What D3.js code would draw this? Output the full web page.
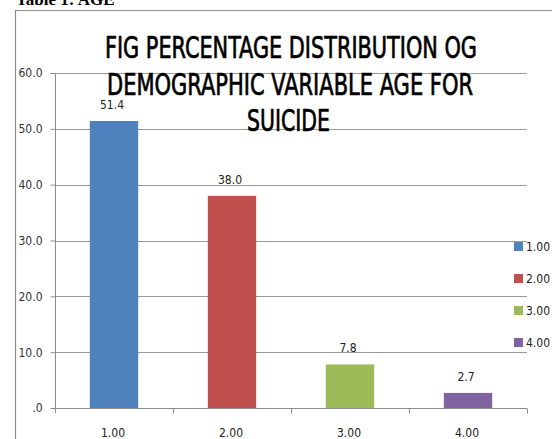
<!DOCTYPE html>
<html>
<head>
<meta charset="utf-8">
<script src="https://cdn.jsdelivr.net/npm/d3@7"></script>
<style>
  body { margin: 0; background: #fff; }
  svg { display: block; }
  text { font-family: "Liberation Sans Narrow", "DejaVu Sans Condensed", "Liberation Sans", sans-serif; }
</style>
</head>
<body>
<div id="chart"></div>
<script>
// chart values
const categories = ["1.00", "2.00", "3.00", "4.00"];
const percents = [51.4, 38.0, 7.8, 2.7];
const colors = ["#4F81BD", "#C0504D", "#9BBB59", "#8064A2"];
const yTicks = [0, 10, 20, 30, 40, 50, 60];
const titleLines = ["FIG PERCENTAGE DISTRIBUTION OG", "DEMOGRAPHIC VARIABLE AGE FOR", "SUICIDE"];

const width = 552, height = 439;
const margin = { top: 73, right: 25, bottom: 31, left: 55 };

const svg = d3.select("#chart").append("svg")
    .attr("width", width).attr("height", height);

// caption cut off at the top of the page
svg.append("text")
    .attr("x", 16).attr("y", 5)
    .attr("font-weight", "bold")
    .attr("font-size", 17)
    .style("font-family", "'Liberation Serif', serif")
    .text("Table 1: AGE");

// chart frame (only top and left edges show)
svg.append("path")
    .attr("d", `M15.5,${height} V10.5 H${width}`)
    .attr("fill", "none")
    .attr("stroke", "#8c8c8c")
    .attr("stroke-width", 1.2);

const x = d3.scaleBand()
    .domain(categories)
    .range([margin.left, width - margin.right])
    .paddingInner(0.59)
    .paddingOuter(0.295);

const y = d3.scaleLinear()
    .domain([0, 60])
    .range([height - margin.bottom, margin.top]);

// gridlines
svg.append("g")
    .selectAll("line")
    .data(yTicks.filter(d => d > 0))
    .enter().append("line")
    .attr("x1", margin.left).attr("x2", width - margin.right)
    .attr("y1", d => Math.round(y(d)) + 0.5).attr("y2", d => Math.round(y(d)) + 0.5)
    .attr("stroke", "#9a9a9a");

// y axis
const yAxis = svg.append("g")
    .attr("transform", `translate(${margin.left + 0.5},0)`)
    .call(d3.axisLeft(y).tickValues(yTicks).tickSize(5).tickPadding(8)
        .tickFormat(d => d === 0 ? ".0" : d.toFixed(1)));
yAxis.select(".domain").attr("stroke", "#8c8c8c").attr("d", `M0,${margin.top}V${y(0) + 5}`);
yAxis.selectAll(".tick line").attr("stroke", "#8c8c8c");
yAxis.selectAll(".tick text").attr("font-size", 12).attr("fill", "#333");

// bars
svg.append("g")
    .selectAll("rect")
    .data(percents)
    .enter().append("rect")
    .attr("x", (d, i) => x(categories[i]))
    .attr("y", d => y(d))
    .attr("width", x.bandwidth())
    .attr("height", d => y(0) - y(d))
    .attr("fill", (d, i) => colors[i]);

// value labels
svg.append("g")
    .selectAll("text")
    .data(percents)
    .enter().append("text")
    .attr("x", (d, i) => x(categories[i]) + x.bandwidth() / 2 - 2)
    .attr("y", d => y(d) - 12)
    .attr("text-anchor", "middle")
    .attr("font-size", 12)
    .attr("fill", "#222")
    .text(d => d.toFixed(1));

// x axis: ticks sit on the category boundaries
const xEdges = d3.scaleLinear().domain([0, categories.length]).range([margin.left, width - margin.right]);
const xAxis = svg.append("g")
    .attr("transform", `translate(0,${Math.round(y(0)) + 0.5})`)
    .call(d3.axisBottom(xEdges).ticks(categories.length).tickSize(5).tickFormat(""));
xAxis.select(".domain").attr("stroke", "#8c8c8c").attr("d", `M${margin.left},0H${width - margin.right}`);
xAxis.selectAll(".tick line").attr("stroke", "#8c8c8c");
xAxis.selectAll(".tick").filter(d => d === 0).remove();

svg.append("g")
    .selectAll("text")
    .data(categories)
    .enter().append("text")
    .attr("x", d => x(d) + x.bandwidth() / 2 - 1)
    .attr("y", 437)
    .attr("text-anchor", "middle")
    .attr("font-size", 12)
    .attr("fill", "#222")
    .text(d => d);

// title
const titleX = [[105, 372], [107, 366], [247, 83]];
const titleY = [58, 95, 131];
svg.append("g")
    .selectAll("text")
    .data(titleLines)
    .enter().append("text")
    .attr("x", (d, i) => titleX[i][0])
    .attr("y", (d, i) => titleY[i])
    .attr("textLength", (d, i) => titleX[i][1])
    .attr("lengthAdjust", "spacingAndGlyphs")
    .attr("font-size", 31)
    .attr("fill", "#000")
    .attr("stroke", "#000")
    .attr("stroke-width", 0.7)
    .text(d => d);

// legend
const legend = svg.append("g")
    .selectAll("g")
    .data(categories)
    .enter().append("g")
    .attr("transform", (d, i) => `translate(514,${242 + i * 32})`);
legend.append("rect")
    .attr("width", 9).attr("height", 9)
    .attr("fill", (d, i) => colors[i]);
legend.append("text")
    .attr("x", 12).attr("y", 9)
    .attr("font-size", 12)
    .attr("fill", "#222")
    .text(d => d);
</script>
</body>
</html>
